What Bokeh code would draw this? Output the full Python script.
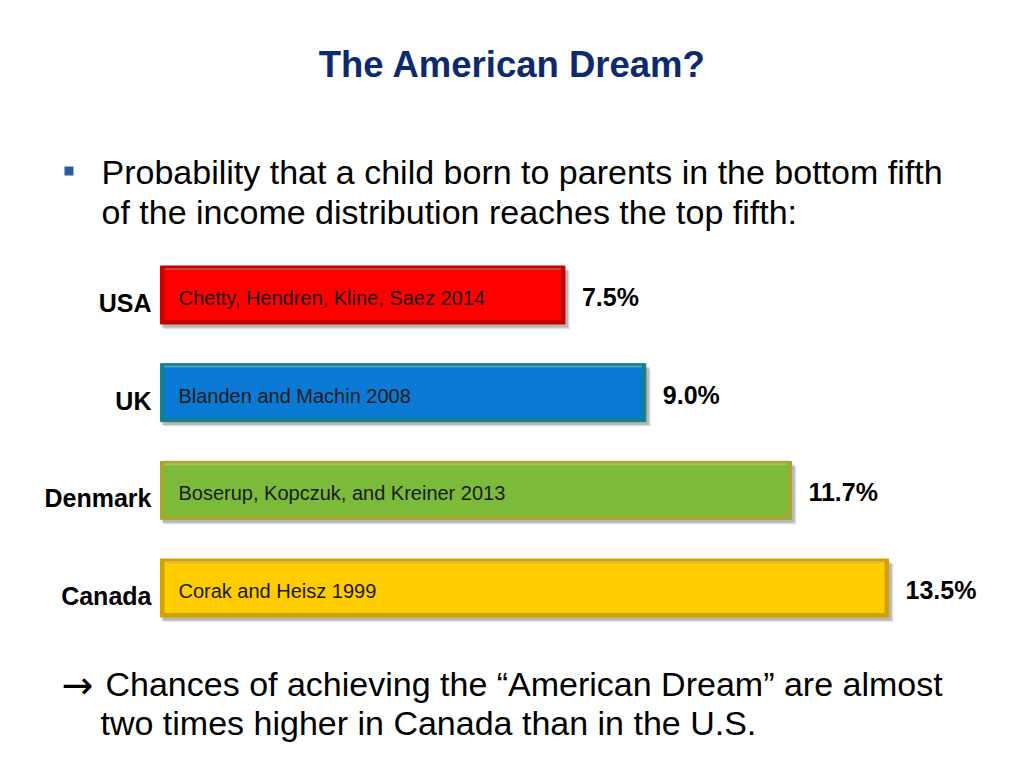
from bokeh.plotting import figure
from bokeh.models import ColumnDataSource, Range1d, Label, BoxAnnotation
from bokeh.transform import dodge
from bokeh.core.properties import value
from bokeh.embed import file_html
from bokeh.resources import INLINE

# ---- data ----
countries = ["USA", "UK", "Denmark", "Canada"]
values = [7.5, 9.0, 11.7, 13.5]
studies = ["Chetty, Hendren, Kline, Saez 2014", "Blanden and Machin 2008",
           "Boserup, Kopczuk, and Kreiner 2013", "Corak and Heisz 1999"]
value_labels = [f"{v:.1f}%" for v in values]
rows = list(range(len(countries)))

title_text = "The American Dream?"
bullet_lines = ["Probability that a child born to parents in the bottom fifth",
                "of the income distribution reaches the top fifth:"]
note_arrow = "\u2192"
note_lines = ["Chances of achieving the \u201cAmerican Dream\u201d are almost",
              "two times higher in Canada than in the U.S."]

# ---- styles ----
fills = ["#ff0000", "#0a7ad4", "#7cbb3a", "#ffcc00"]
edges = ["#c40000", "#13808f", "#a0a830", "#d2a200"]
FONT = "Liberation Sans"

src = ColumnDataSource(dict(y=rows, country=countries, value=values,
                            study=studies, vlabel=value_labels,
                            fill=fills, edge=edges))

W, H = 1008, 752
p = figure(width=W, height=H, x_range=Range1d(-2.966, 15.725),
           y_range=Range1d(4.684, -3.015), min_border=0,
           x_axis_location=None, y_axis_location=None,
           toolbar_location=None, output_backend="svg")
p.grid.visible = False
p.outline_line_color = None
p.background_fill_color = "white"

BH = 0.594
# shadows
p.hbar(y=dodge("y", 0.05), left=0.05, right=dodge("value", 0.09), height=BH,
       source=src, fill_color="#000000", fill_alpha=0.12, line_color=None)
p.hbar(y=dodge("y", 0.035), left=0.03, right=dodge("value", 0.06), height=BH,
       source=src, fill_color="#000000", fill_alpha=0.18, line_color=None)
# bar edges (bevel)
p.hbar(y="y", left=0, right="value", height=BH, source=src,
       fill_color="edge", line_color="edge", line_width=1)
# bar faces
p.hbar(y="y", left=0.075, right=dodge("value", -0.075), height=BH - 0.08,
       source=src, fill_color="fill", line_color=None)
# top highlight
p.hbar(y=dodge("y", -BH / 2 + 0.03), left=0.075, right=dodge("value", -0.075),
       height=0.02, source=src, fill_color="white", fill_alpha=0.25, line_color=None)

# country labels
p.text(x=0, y="y", text="country", source=src, x_offset=-9, y_offset=8,
       text_align="right", text_baseline="middle", text_font=value(FONT),
       text_font_style="bold", text_font_size="25px", text_color="#000000")
# value labels
p.text(x="value", y="y", text="vlabel", source=src, x_offset=17, y_offset=2,
       text_align="left", text_baseline="middle", text_font=value(FONT),
       text_font_style="bold", text_font_size="25px", text_color="#000000")
# study labels
p.text(x=0, y="y", text="study", source=src, x_offset=18, y_offset=3,
       text_align="left", text_baseline="middle", text_font=value(FONT),
       text_font_size="20px", text_color="#1a1a1a")

def sy(ref_y):
    return 765 - ref_y

def sx(ref_x):
    return ref_x

p.add_layout(Label(x=sx(512), y=sy(77), x_units="screen", y_units="screen",
                   text=title_text, text_align="center", text_baseline="alphabetic",
                   text_font=FONT, text_font_style="bold", text_font_size="36.5px",
                   text_color="#0d2a6e"))

p.add_layout(BoxAnnotation(left=64, right=73, top=752 - 166, bottom=752 - 175,
                           left_units="screen", right_units="screen",
                           top_units="screen", bottom_units="screen",
                           fill_color="#2d5c9a", fill_alpha=1.0, line_color=None,
                           level="overlay"))

for i, line in enumerate(bullet_lines):
    p.add_layout(Label(x=sx(101), y=sy(184 + 40 * i), x_units="screen", y_units="screen",
                       text=line, text_align="left", text_baseline="alphabetic",
                       text_font=FONT, text_font_size="34px", text_color="#000000"))

p.add_layout(Label(x=sx(61), y=sy(697), x_units="screen", y_units="screen",
                   text=note_arrow, text_align="left", text_baseline="alphabetic",
                   text_font="DejaVu Sans", text_font_size="38px",
                   text_color="#000000"))
note_x = [105, 100]
for i, line in enumerate(note_lines):
    p.add_layout(Label(x=sx(note_x[i]), y=sy(696 + 39 * i), x_units="screen", y_units="screen",
                       text=line, text_align="left", text_baseline="alphabetic",
                       text_font=FONT, text_font_size="34px", text_color="#000000"))

open("out.html", "w").write(file_html(p, INLINE))
